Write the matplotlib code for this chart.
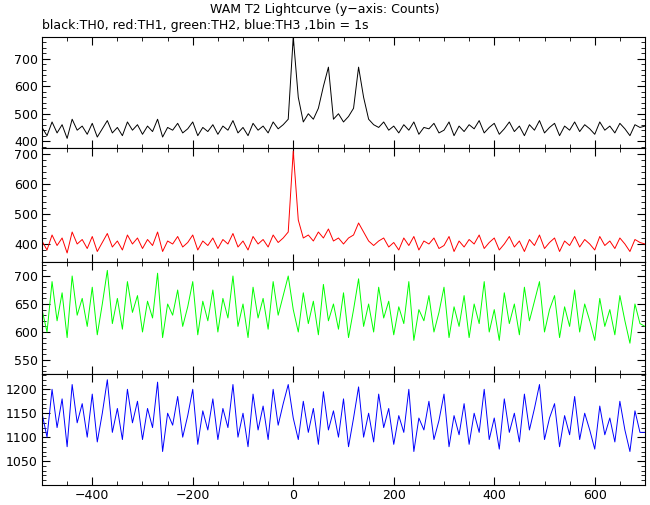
import numpy as np
import matplotlib
matplotlib.use("Agg")
import matplotlib.pyplot as plt

time = np.arange(-500, 701, 10)

th0 = [450,420,470,430,460,410,480,440,455,425,
       465,415,445,475,430,450,420,470,440,460,
       425,455,435,480,415,450,440,465,430,445,
       470,420,450,435,460,425,455,440,475,430,
       450,420,465,440,455,430,470,445,460,480,
       780,560,470,500,480,520,600,670,480,500,
       470,490,520,670,560,480,460,450,470,440,
       455,430,460,440,470,425,450,445,465,430,
       440,470,420,455,435,460,445,475,430,450,
       465,425,445,470,435,455,420,460,440,475,
       430,450,465,420,455,440,470,435,460,445,
       425,470,440,455,430,465,445,420,460,450,
       455]
th1 = [410,380,430,395,420,370,440,400,415,385,
       425,375,405,435,390,410,380,430,400,420,
       385,415,395,440,375,410,400,425,390,405,
       430,380,410,395,420,385,415,400,435,390,
       410,380,425,400,415,390,430,405,420,440,
       710,480,420,430,410,440,420,450,410,420,
       400,420,430,470,440,410,395,410,420,390,
       405,380,420,395,425,380,410,400,420,385,
       395,425,375,410,390,415,400,430,385,405,
       420,380,400,425,390,410,375,415,395,430,
       385,405,420,375,410,395,425,390,415,400,
       380,425,395,410,385,420,400,375,415,405,
       400]
th2 = [640,600,690,620,670,590,700,630,660,610,
       680,595,650,710,615,660,605,690,635,665,
       600,655,625,705,590,650,630,675,610,645,
       690,595,655,620,675,600,660,625,700,610,
       650,590,680,625,660,605,690,630,665,700,
       640,600,670,615,655,595,685,620,650,605,
       670,590,640,695,610,650,600,680,625,655,
       595,645,615,690,585,640,620,665,600,635,
       680,590,645,610,665,590,650,615,690,600,
       640,585,670,615,650,595,680,620,655,690,
       600,640,665,590,645,610,675,600,650,620,
       585,660,610,640,595,665,620,580,650,615,
       610]
th3 = [1150,1100,1200,1120,1180,1080,1210,1130,1170,1100,
       1190,1090,1150,1220,1110,1160,1095,1200,1130,1175,
       1095,1160,1120,1215,1070,1150,1125,1185,1100,1145,
       1200,1085,1155,1115,1180,1095,1160,1120,1210,1100,
       1150,1080,1190,1115,1165,1095,1200,1125,1170,1210,
       1140,1095,1175,1110,1160,1085,1195,1115,1155,1100,
       1180,1080,1140,1205,1100,1150,1090,1190,1120,1160,
       1085,1145,1110,1200,1070,1140,1115,1175,1095,1135,
       1190,1080,1145,1105,1170,1085,1150,1110,1200,1095,
       1140,1075,1180,1110,1150,1090,1190,1115,1160,1210,
       1095,1140,1170,1080,1145,1105,1185,1095,1150,1115,
       1075,1165,1105,1140,1090,1175,1115,1070,1155,1110,
       1110]

series = [th0, th1, th2, th3]
colors = ["black", "#ff0000", "#00ff00", "#0000ff"]
ylims = [(375, 780), (340, 720), (525, 725), (1000, 1232)]
yticks = [[400,500,600,700],[400,500,600,700],[550,600,650,700],[1050,1100,1150,1200]]

fig = plt.figure(figsize=(6.5, 5.05), dpi=100)
L, R = 42/650, 645/650
bounds = [(37,148),(148,262),(262,374),(374,485)]
for i,(t,b) in enumerate(bounds):
    ax = fig.add_axes([L, 1-b/505, R-L, (b-t)/505])
    ax.plot(time, series[i], color=colors[i], lw=0.7)
    ax.set_xlim(-500, 700)
    ax.set_ylim(*ylims[i])
    ax.set_yticks(yticks[i])
    ax.set_xticks([-400,-200,0,200,400,600])
    ax.minorticks_on()
    ax.tick_params(which="both", direction="in", top=True, right=True, labelsize=9, pad=3)
    ax.tick_params(which="major", length=6)
    ax.tick_params(which="minor", length=3)
    if i < 3:
        ax.tick_params(labelbottom=False)

fig.text(0.5, 1-10/505, "WAM T2 Lightcurve (y\u2212axis: Counts)", ha="center", va="center", fontsize=9)
fig.text(L, 1-26/505, "black:TH0, red:TH1, green:TH2, blue:TH3 ,1bin = 1s", ha="left", va="center", fontsize=9)
fig.savefig("out.png", dpi=100)
